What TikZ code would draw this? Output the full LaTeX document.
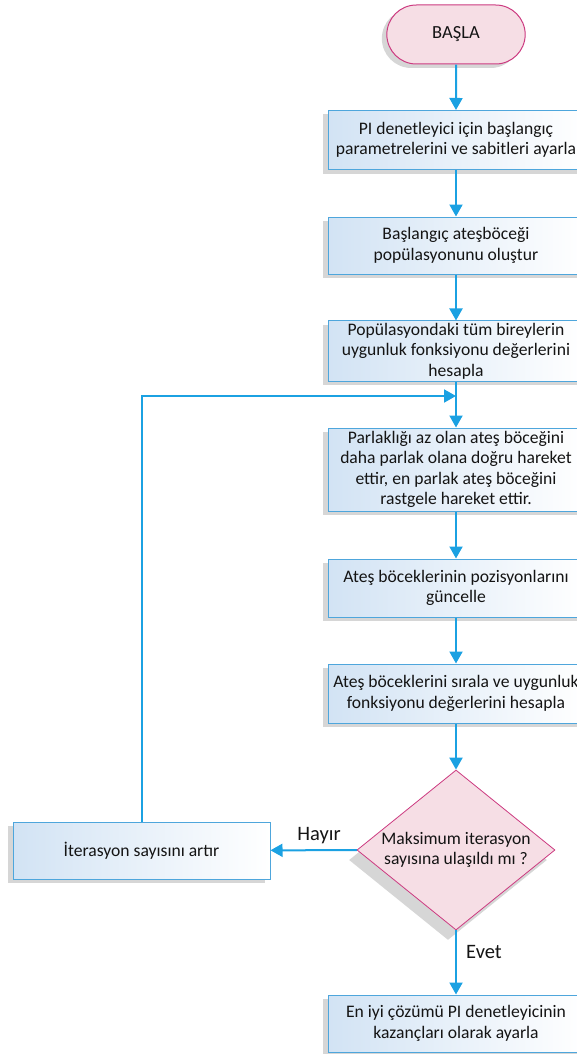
\documentclass[tikz,border=0pt]{standalone}
\usepackage{fontspec}
\setmainfont{Carlito}
\usetikzlibrary{shapes.misc,shapes.geometric,arrows.meta,shadows}
\definecolor{arrowblue}{RGB}{27,161,226}
\definecolor{boxborder}{RGB}{78,166,220}
\definecolor{boxleft}{RGB}{210,227,244}
\definecolor{pinkfill}{RGB}{246,222,229}
\definecolor{pinkborder}{RGB}{204,58,128}
\definecolor{txt}{RGB}{20,20,20}
\tikzset{
  procbox/.style={rectangle, draw=boxborder, line width=1pt, left color=boxleft, right color=white,
    minimum width=256pt, align=center, inner sep=2pt,
    font=\fontsize{17.6}{20.5}\selectfont, text=txt,
    drop shadow={shadow xshift=-5pt, shadow yshift=-4pt, opacity=0.16, fill=black}},
  startbox/.style={rounded rectangle, draw=pinkborder, line width=1pt, fill=pinkfill,
    minimum width=145pt, minimum height=59pt, font=\fontsize{18.5}{22}\selectfont, text=txt,
    drop shadow={shadow xshift=-5pt, shadow yshift=-4pt, opacity=0.16, fill=black}},
  decbox/.style={diamond, draw=pinkborder, line width=0.8pt, fill=pinkfill, aspect=1.24,
    minimum width=198pt, minimum height=160pt, inner sep=0pt, align=center,
    font=\fontsize{17.6}{20.5}\selectfont, text=txt,
    drop shadow={shadow xshift=-8pt, shadow yshift=-10pt, opacity=0.16, fill=black}},
  flow/.style={draw=arrowblue, line width=2pt, -{Triangle[width=13pt,length=12pt]}},
  lbl/.style={font=\fontsize{20.5}{24}\selectfont, text=txt}
}
\begin{document}
\begin{tikzpicture}[x=1pt,y=-1pt]
\useasboundingbox (0,0) rectangle (576,1054);
\node[startbox] (start) at (456,34.5) {BAŞLA};
\node[procbox, minimum height=59pt] (b1) at (456,140) {PI denetleyici için başlangıç\\parametrelerini ve sabitleri ayarla};
\node[procbox, minimum height=57pt] (b2) at (456,245.5) {Başlangıç ateşböceği\\popülasyonunu oluştur};
\node[procbox, minimum height=58pt] (b3) at (456,351) {Popülasyondaki tüm bireylerin\\uygunluk fonksiyonu değerlerini\\hesapla};
\node[procbox, minimum height=83pt] (b4) at (456,469.5) {Parlaklığı az olan ateş böceğini\\daha parlak olana doğru hareket\\ettir, en parlak ateş böceğini\\rastgele hareket ettir.};
\node[procbox, minimum height=58pt] (b5) at (456,588) {Ateş böceklerinin pozisyonlarını\\güncelle};
\node[procbox, minimum height=59pt] (b6) at (456,693.5) {Ateş böceklerini sırala ve uygunluk\\fonksiyonu değerlerini hesapla};
\node[decbox] (dec) at (456,850) {Maksimum iterasyon\\sayısına ulaşıldı mı ?};
\node[procbox, minimum width=257pt, minimum height=57pt, font=\fontsize{17.6}{20.5}\selectfont] (inc) at (141.5,850.5) {İterasyon sayısını artır};
\node[procbox, minimum height=57pt] (fin) at (456,1023.5) {En iyi çözümü PI denetleyicinin\\kazançları olarak ayarla};
\coordinate (loopj) at (456,396);
\draw[flow] (start) -- (b1);
\draw[flow] (b1) -- (b2);
\draw[flow] (b2) -- (b3);
\draw[flow] (b3) -- (b4);
\draw[flow] (b4) -- (b5);
\draw[flow] (b5) -- (b6);
\draw[flow] (b6) -- (dec);
\draw[flow] (dec) -- (fin);
\draw[flow] (dec) -- (inc);
\draw[flow] (inc.north) |- (loopj);
\node[lbl] (hayir) at (319,836) {Hayır};
\node[lbl] (evet) at (484,952) {Evet};
\end{tikzpicture}
\end{document}
